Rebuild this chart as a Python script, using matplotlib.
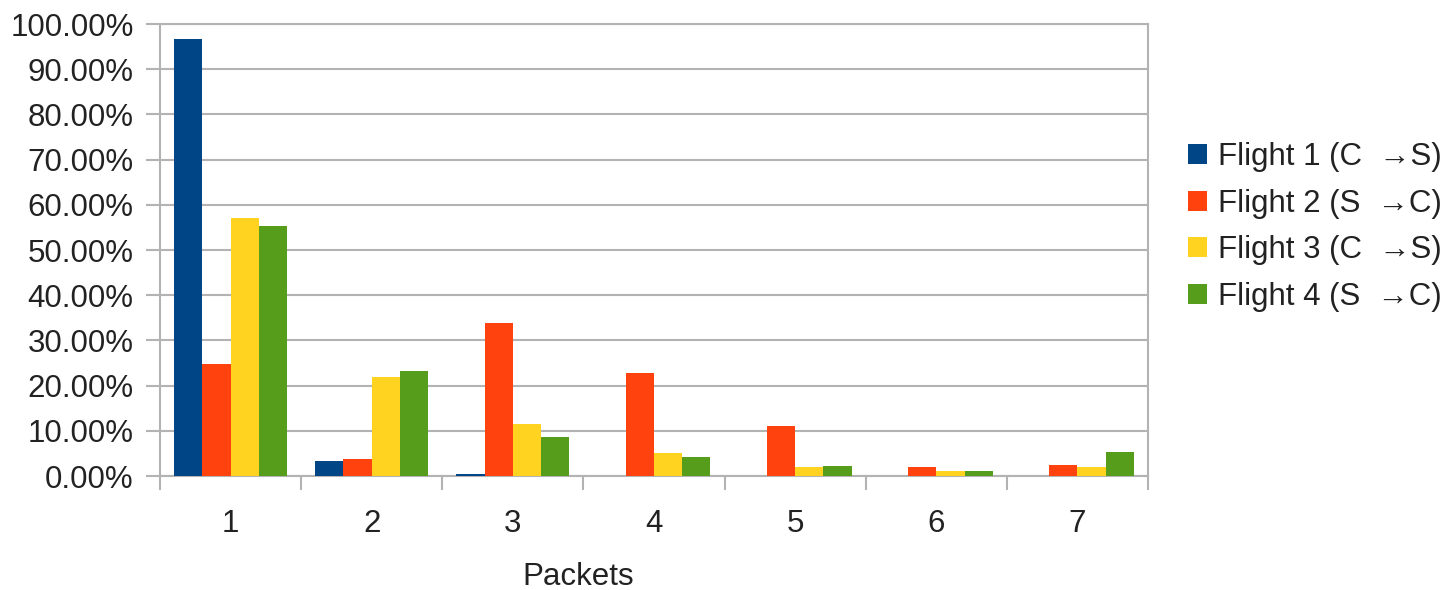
import matplotlib
matplotlib.use("Agg")
import matplotlib.pyplot as plt
from matplotlib.patches import Patch
import numpy as np

plt.rcParams['font.family'] = ['Liberation Sans', 'DejaVu Sans']

packets = ["1", "2", "3", "4", "5", "6", "7"]
flight1 = [96.7, 3.3, 0.4, 0.1, 0.0, 0.0, 0.0]
flight2 = [24.7, 3.8, 33.8, 22.7, 11.0, 2.0, 2.5]
flight3 = [57.1, 22.0, 11.6, 5.1, 1.9, 1.1, 1.9]
flight4 = [55.3, 23.3, 8.7, 4.2, 2.3, 1.2, 5.2]
series_names = ["Flight 1 (C  \u2192S)", "Flight 2 (S  \u2192C)",
                "Flight 3 (C  \u2192S)", "Flight 4 (S  \u2192C)"]
colors = ["#004586", "#ff420e", "#ffd320", "#579d1c"]
yticks = [0, 10, 20, 30, 40, 50, 60, 70, 80, 90, 100]

FS = 22.5
TXT = "#222222"

fig = plt.figure(figsize=(14.43, 5.9), dpi=100)
ax = fig.add_axes([160 / 1443, 1 - 476 / 590, (1148 - 160) / 1443, (476 - 24) / 590])

x = np.arange(len(packets))
w = 0.2
for i, (vals, c) in enumerate(zip([flight1, flight2, flight3, flight4], colors)):
    ax.bar(x - 0.3 + i * w, vals, width=w, color=c, zorder=3)

ax.set_xlim(-0.5, len(packets) - 0.5)
ax.set_ylim(0, 100)
ax.set_yticks(yticks)
ax.set_yticklabels([f"{v:.2f}%" for v in yticks])
ax.yaxis.grid(True, color="#b3b3b3", linewidth=1.5, zorder=0)

ax.set_xticks(x)
ax.set_xticklabels(packets)
ax.set_xticks(np.arange(len(packets) + 1) - 0.5, minor=True)
ax.tick_params(axis="x", which="major", length=0, pad=24, labelsize=FS, colors=TXT)
ax.tick_params(axis="x", which="minor", length=10, width=1.5, color="#b3b3b3")
ax.tick_params(axis="y", length=10, width=1.5, color="#b3b3b3", pad=9,
               labelsize=FS, labelcolor=TXT)

for s in ax.spines.values():
    s.set_color("#b3b3b3")
    s.set_linewidth(1.5)

fig.text(578 / 1443, 1 - 577 / 590, "Packets", ha="center", va="center",
         fontsize=FS, color=TXT)

handles = [Patch(facecolor=c, label=n) for c, n in zip(colors, series_names)]
fig.legend(handles=handles, loc="center left", bbox_to_anchor=(1188 / 1443, 1 - 227 / 590),
           frameon=False, borderpad=0, borderaxespad=0, fontsize=FS,
           handlelength=0.62, handleheight=0.62, handletextpad=0.35,
           labelspacing=0.53, labelcolor=TXT)

fig.savefig("out.png", dpi=100)
